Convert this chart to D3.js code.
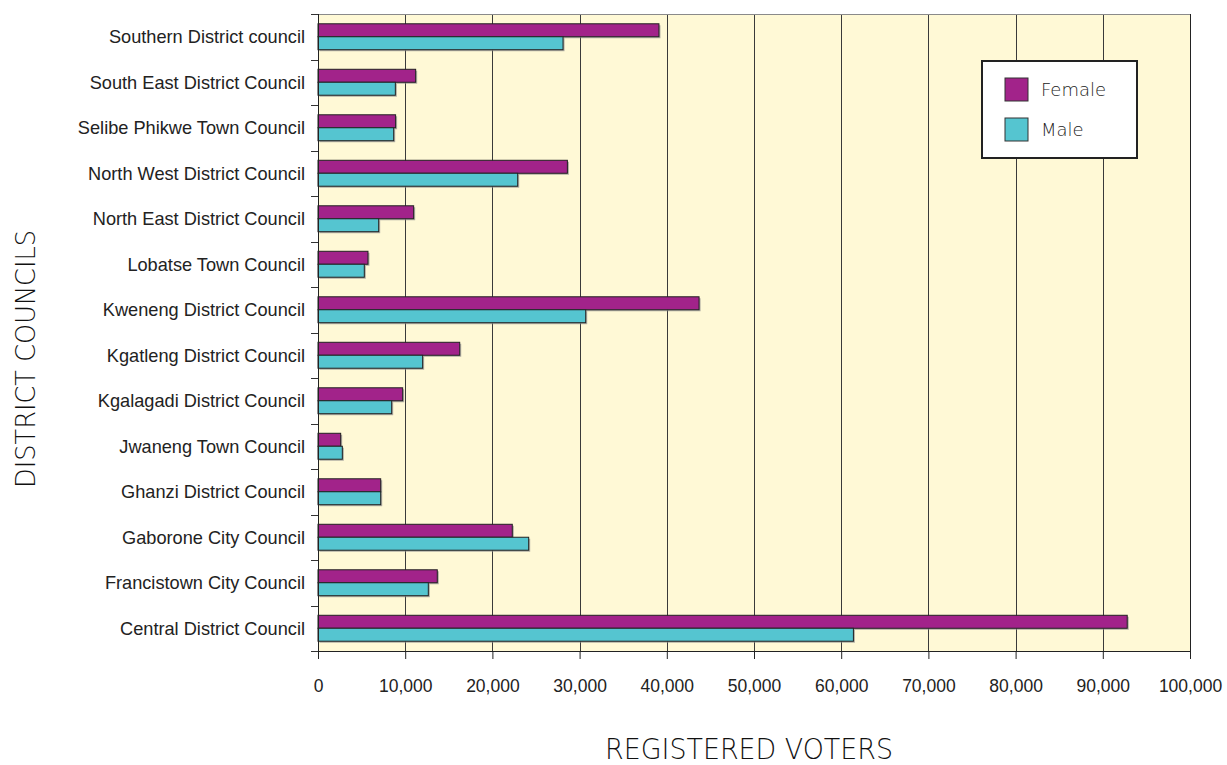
<!DOCTYPE html>
<html>
<head>
<meta charset="utf-8">
<script src="https://cdn.jsdelivr.net/npm/d3@7"></script>
<style>
  body { margin: 0; background: #fff; }
  svg { display: block; }
</style>
</head>
<body>
<script>
// councils listed top to bottom, as in the picture
var councils = [
  'Southern District council',
  'South East District Council',
  'Selibe Phikwe Town Council',
  'North West District Council',
  'North East District Council',
  'Lobatse Town Council',
  'Kweneng District Council',
  'Kgatleng District Council',
  'Kgalagadi District Council',
  'Jwaneng Town Council',
  'Ghanzi District Council',
  'Gaborone City Council',
  'Francistown City Council',
  'Central District Council'
];
var female = [39100, 11200, 8900, 28600, 10970, 5730, 43700, 16250, 9710, 2600, 7190, 22280, 13680, 92800];
var male = [28100, 8870, 8680, 22900, 6960, 5310, 30700, 12000, 8450, 2790, 7190, 24160, 12650, 61400];
var seriesNames = ['Female', 'Male'];
var seriesColors = ['#a2238a', '#55c5d0'];
var xTicks = [0, 10000, 20000, 30000, 40000, 50000, 60000, 70000, 80000, 90000, 100000];

var width = 1227, height = 765;
var margin = { top: 14, right: 37, bottom: 114, left: 318 };
var innerW = width - margin.left - margin.right;
var innerH = height - margin.top - margin.bottom;

var svg = d3.select('body').append('svg')
  .attr('width', width)
  .attr('height', height);

var g = svg.append('g').attr('transform', 'translate(' + margin.left + ',' + margin.top + ')');

var x = d3.scaleLinear().domain([0, 100000]).range([0, innerW]);
var y = d3.scaleBand().domain(councils).range([0, innerH]).paddingInner(0.43).paddingOuter(0.215);
var ySub = d3.scaleBand().domain(seriesNames).range([0, y.bandwidth()]);

// plot background
g.append('rect')
  .attr('width', innerW)
  .attr('height', innerH)
  .attr('fill', '#fff9d6');

// vertical gridlines
g.selectAll('.grid')
  .data(xTicks.slice(1))
  .enter().append('line')
  .attr('x1', function (d) { return Math.round(x(d)) + 0.5; })
  .attr('x2', function (d) { return Math.round(x(d)) + 0.5; })
  .attr('y1', 0)
  .attr('y2', innerH)
  .attr('stroke', '#3a3a3a')
  .attr('stroke-width', 1);

// top border
g.append('line')
  .attr('x1', 0).attr('x2', innerW)
  .attr('y1', 0.5).attr('y2', 0.5)
  .attr('stroke', '#8a8a8a');

var rows = councils.map(function (c, i) {
  return { name: c, values: [female[i], male[i]] };
});

var row = g.selectAll('.row')
  .data(rows)
  .enter().append('g')
  .attr('transform', function (d) { return 'translate(0,' + y(d.name) + ')'; });

// shadows first
row.selectAll('.shadow')
  .data(function (d) { return d.values; })
  .enter().append('rect')
  .attr('x', 1.5)
  .attr('y', function (d, i) { return ySub(seriesNames[i]) + 1.5; })
  .attr('width', function (d) { return x(d); })
  .attr('height', ySub.bandwidth())
  .attr('fill', '#8c8c8c')
  .attr('opacity', 0.7);

row.selectAll('.bar')
  .data(function (d) { return d.values; })
  .enter().append('rect')
  .attr('x', 0)
  .attr('y', function (d, i) { return ySub(seriesNames[i]); })
  .attr('width', function (d) { return x(d); })
  .attr('height', ySub.bandwidth())
  .attr('fill', function (d, i) { return seriesColors[i]; })
  .attr('stroke', '#222')
  .attr('stroke-width', 1);

// right border
g.append('line')
  .attr('x1', innerW + 0.5).attr('x2', innerW + 0.5)
  .attr('y1', 0).attr('y2', innerH)
  .attr('stroke', '#222');

// x axis
var xAxis = g.append('g')
  .attr('transform', 'translate(0,' + innerH + ')')
  .call(d3.axisBottom(x).tickValues(xTicks).tickFormat(d3.format(',')).tickSize(8).tickPadding(21));
xAxis.select('.domain').attr('stroke', '#222').attr('d', 'M0.5,0.5H' + (innerW + 0.5));
xAxis.selectAll('.tick line').attr('stroke', '#222');
xAxis.selectAll('text')
  .attr('fill', '#222')
  .style('font-family', '"Liberation Sans", Arial, sans-serif')
  .style('font-size', '17.5px');

// y axis: labels centred on bands, ticks on band edges
var yAxis = g.append('g');
yAxis.append('line')
  .attr('x1', 0.5).attr('x2', 0.5)
  .attr('y1', 0).attr('y2', innerH + 8)
  .attr('stroke', '#222');
var step = y.step();
yAxis.selectAll('.ytick')
  .data(d3.range(councils.length + 1))
  .enter().append('line')
  .attr('x1', -7).attr('x2', 0)
  .attr('y1', function (i) { return Math.round(i * step) + 0.5; })
  .attr('y2', function (i) { return Math.round(i * step) + 0.5; })
  .attr('stroke', '#333');
yAxis.selectAll('.ylabel')
  .data(councils)
  .enter().append('text')
  .attr('x', -13)
  .attr('y', function (d) { return y(d) + y.bandwidth() / 2; })
  .attr('dy', '0.35em')
  .attr('text-anchor', 'end')
  .attr('fill', '#222')
  .style('font-family', '"Liberation Sans", Arial, sans-serif')
  .style('font-size', '18.2px')
  .text(function (d) { return d; });

// axis titles
svg.append('text')
  .attr('x', margin.left + innerW / 2 - 5)
  .attr('y', 759)
  .attr('text-anchor', 'middle')
  .attr('fill', '#111')
  .attr('textLength', 288)
  .attr('lengthAdjust', 'spacingAndGlyphs')
  .style('font-family', '"DejaVu Sans", sans-serif')
  .style('font-weight', 200)
  .style('font-size', '29px')
  .text('REGISTERED VOTERS');

svg.append('text')
  .attr('transform', 'translate(35,359) rotate(-90)')
  .attr('text-anchor', 'middle')
  .attr('fill', '#111')
  .attr('textLength', 258)
  .attr('lengthAdjust', 'spacingAndGlyphs')
  .style('font-family', '"DejaVu Sans", sans-serif')
  .style('font-weight', 200)
  .style('font-size', '27px')
  .text('DISTRICT COUNCILS');

// legend
var legend = svg.append('g').attr('transform', 'translate(982,61)');
legend.append('rect')
  .attr('width', 155)
  .attr('height', 97)
  .attr('fill', '#fff')
  .attr('stroke', '#222')
  .attr('stroke-width', 2);
var item = legend.selectAll('.item')
  .data(seriesNames)
  .enter().append('g')
  .attr('transform', function (d, i) { return 'translate(23,' + (17 + i * 40) + ')'; });
item.append('rect')
  .attr('width', 23)
  .attr('height', 23)
  .attr('fill', function (d, i) { return seriesColors[i]; })
  .attr('stroke', '#333');
item.append('text')
  .attr('x', 36)
  .attr('y', 12)
  .attr('dy', '0.35em')
  .attr('fill', '#222')
  .style('font-family', '"DejaVu Sans", sans-serif')
  .style('font-weight', 200)
  .style('font-size', '18px')
  .text(function (d) { return d; });
</script>
</body>
</html>
